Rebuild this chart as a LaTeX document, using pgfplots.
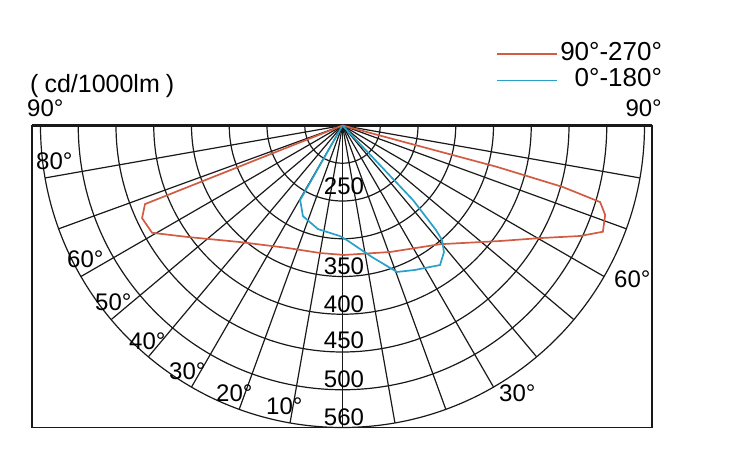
\documentclass[border=0pt]{standalone}
\usepackage{pgfplots}
\pgfplotsset{compat=1.18}
\usepackage{pgfplotstable}
\usepackage{fontspec}
\setmainfont{Liberation Sans}
\definecolor{redc}{RGB}{210,92,66}
\definecolor{bluec}{RGB}{40,160,200}
\definecolor{gridc}{RGB}{25,25,25}

% polar data: a = angle from nadir (deg, + to the right), r = radius in grid rings
\pgfplotstableread{
a r
-68.4 0
-68.3 5.63
-65.2 5.85
-60.6 5.79
-54.4 5.07
-41.3 4.11
-24.4 3.56
-10.0 3.43
0.7 3.43
20.6 3.58
39.4 4.07
53.7 5.17
60.3 6.02
65.05 6.94
67.8 7.45
71.2 7.35
73.45 7.12
74.4 6.06
75.0 4.24
75.5 0
}\redcurve

\pgfplotstableread{
a r
-29.6 0
-29.6 2.27
-23.6 2.62
-13.3 2.82
-1.3 2.93
2.25 3.04
12.6 3.57
20.4 4.14
26.6 4.28
34.95 4.51
38.7 4.30
41.0 4.02
41.8 3.71
43.4 2.72
44.0 0
}\bluecurve

\newcommand{\lf}{\fontsize{24bp}{28bp}\selectfont}
\begin{document}
\begin{tikzpicture}
\begin{axis}[
  x=1bp, y=1bp, y dir=reverse,
  xmin=32, xmax=652, ymin=125.5, ymax=427.5,
  clip=false,
  axis line style={gridc, line width=1.3bp},
  ticks=none,
  legend style={draw=none, fill=none, at={(axis cs:664,40)}, anchor=north east,
    inner sep=0pt, outer sep=0pt, row sep=3bp,
    font=\fontsize{26bp}{30bp}\selectfont,
    /tikz/every even column/.append style={column sep=5bp}},
  legend cell align=right,
  legend image code/.code={\draw[#1, line width=1.6bp] (0bp,-2bp) -- (60bp,-2bp);},
]
% page extent
\path (axis cs:0,0) rectangle (axis cs:739,463);
% grid arcs
\pgfplotsinvokeforeach{1,...,8}{
  \draw[gridc, line width=1.2bp] (axis cs:{342.5+37.75*#1},125.5) arc[start angle=0, end angle=-180, radius={37.75*#1 bp}];
}
% grid rays
\pgfplotsinvokeforeach{-80,-70,...,80}{
  \draw[gridc, line width=1.2bp] (axis cs:342.5,125.5) -- (axis cs:{342.5+302*sin(#1)},{125.5+302*cos(#1)});
}
\draw[gridc, line width=2.6bp] (axis cs:32,125.5) -- (axis cs:652,125.5);

\addplot[redc, line width=1.7bp, no marks] table[
  x expr={342.5+37.75*\thisrow{r}*sin(\thisrow{a})},
  y expr={125.5+37.75*\thisrow{r}*cos(\thisrow{a})}] {\redcurve};
\addlegendentry{90°-270°}
\addplot[bluec, line width=1.7bp, no marks] table[
  x expr={342.5+37.75*\thisrow{r}*sin(\thisrow{a})},
  y expr={125.5+37.75*\thisrow{r}*cos(\thisrow{a})}] {\bluecurve};
\addlegendentry{0°-180°}

% texts
\node[anchor=base west, inner sep=0pt] at (axis cs:30,93) {\fontsize{25bp}{29bp}\selectfont(\hspace{6bp}cd/1000lm\hspace{6bp})};
\node[anchor=base west, inner sep=0pt] at (axis cs:27,117) {\lf 90°};
\node[anchor=base east, inner sep=0pt] at (axis cs:662,117) {\lf 90°};
\node[anchor=base west, inner sep=0pt] at (axis cs:36,170) {\lf 80°};
\node[anchor=base west, inner sep=0pt] at (axis cs:67,268) {\lf 60°};
\node[anchor=base west, inner sep=0pt] at (axis cs:95,311) {\lf 50°};
\node[anchor=base west, inner sep=0pt] at (axis cs:129,350) {\lf 40°};
\node[anchor=base west, inner sep=0pt] at (axis cs:169,380) {\lf 30°};
\node[anchor=base west, inner sep=0pt] at (axis cs:216,402) {\lf 20°};
\node[anchor=base west, inner sep=0pt] at (axis cs:266,415) {\lf 10°};
\node[anchor=base west, inner sep=0pt] at (axis cs:499,402) {\lf 30°};
\node[anchor=base west, inner sep=0pt] at (axis cs:614,288) {\lf 60°};
\node[anchor=base, inner sep=0pt] at (axis cs:344,195) {\lf 250};
\node[anchor=base, inner sep=0pt] at (axis cs:344,275) {\lf 350};
\node[anchor=base, inner sep=0pt] at (axis cs:344,313) {\lf 400};
\node[anchor=base, inner sep=0pt] at (axis cs:344,349) {\lf 450};
\node[anchor=base, inner sep=0pt] at (axis cs:344,388) {\lf 500};
\node[anchor=base, inner sep=0pt] at (axis cs:344,426) {\lf 560};
\end{axis}
\end{tikzpicture}
\end{document}
